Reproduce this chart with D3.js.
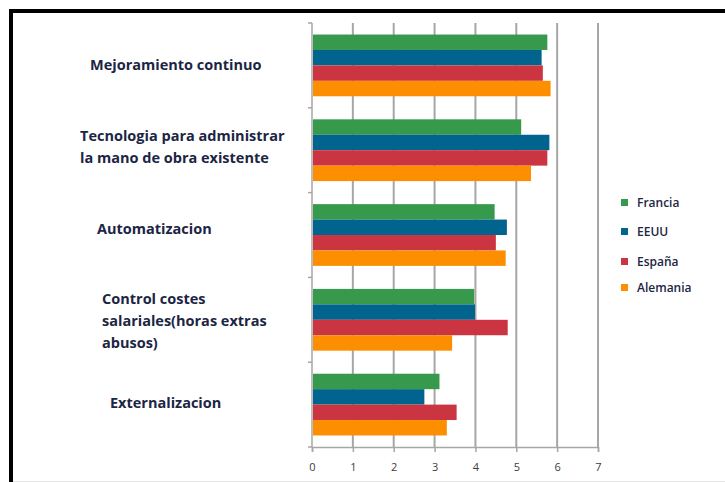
<!DOCTYPE html>
<html>
<head>
<meta charset="utf-8">
<script src="https://cdnjs.cloudflare.com/ajax/libs/d3/7.8.5/d3.min.js"></script>
<style>
body { margin: 0; background: #fff; }
.text_category { font-family: "Open Sans", sans-serif; font-weight: 700; font-size: 14.5px; }
.text_legend { font-family: "Open Sans", sans-serif; font-weight: 600; font-size: 12px; }
.text_tick { font-family: "Open Sans", sans-serif; font-size: 11px; }
</style>
</head>
<body>
<div id="canvas"></div>
<script>
// ----------------------------------------------------------
// DATA -----------------------------------------------------
// ----------------------------------------------------------
var categories = [
  "Mejoramiento continuo",
  "Tecnologia para administrar la mano de obra existente",
  "Automatizacion",
  "Control costes salariales(horas extras abusos)",
  "Externalizacion"
];
// label lines as they wrap in the picture
var category_lines = [
  ["Mejoramiento continuo"],
  ["Tecnologia para administrar", "la mano de obra existente"],
  ["Automatizacion"],
  ["Control costes", "salariales(horas extras", "abusos)"],
  ["Externalizacion"]
];
var series = ["Francia", "EEUU", "España", "Alemania"];
var values_francia  = [5.76, 5.12, 4.47, 3.97, 3.12];
var values_eeuu     = [5.62, 5.81, 4.77, 3.99, 2.75];
var values_espana   = [5.65, 5.76, 4.50, 4.79, 3.54];
var values_alemania = [5.84, 5.36, 4.74, 3.43, 3.30];
var tick_values = [0, 1, 2, 3, 4, 5, 6, 7];

// ----------------------------------------------------------
// LAYOUT ---------------------------------------------------
// ----------------------------------------------------------
var layout = {
  width: 725,
  height: 482,
  plot_left: 312,
  plot_right: 598,
  plot_top: 23,
  plot_bottom: 447,
  color_border: "#000000",
  color_grid: "#a6a6a6",
  color_text: "#1c2544",
  color_tick: "#3c3c3c",
  colors: ["#37994b", "#00648f", "#cb3542", "#fd8e00"],
  // label x and small vertical nudge per category
  label_x: [90, 80, 97, 102, 110],
  label_dy: [0, -3, -6, 1, -2],
  line_height: 22,
  legend_x: 621,
  legend_y: [203, 232, 262, 288]
};

var table = categories.map(function(c, i) {
  return {
    category: c,
    lines: category_lines[i],
    values: [values_francia[i], values_eeuu[i], values_espana[i], values_alemania[i]]
  };
});

// ----------------------------------------------------------
// STRUCTURE ------------------------------------------------
// ----------------------------------------------------------
var svg = d3.select("#canvas").append("svg")
.attr("width", layout.width)
.attr("height", layout.height)
.style("display", "block")
.style("background-color", "#ffffff");

// frame (top and left edges only, as in the picture)
svg.append("rect")
.attr("x", 9).attr("y", 9)
.attr("width", layout.width).attr("height", 4)
.style("fill", layout.color_border);
svg.append("rect")
.attr("x", 9).attr("y", 9)
.attr("width", 4).attr("height", layout.height)
.style("fill", layout.color_border);
svg.append("rect")
.attr("x", 13).attr("y", 481)
.attr("width", layout.width).attr("height", 1)
.style("fill", "#e6e6e6");

// ----------------------------------------------------------
// SCALES ---------------------------------------------------
// ----------------------------------------------------------
var x = d3.scaleLinear()
.domain([0, 7])
.range([layout.plot_left, layout.plot_right]);

var y = d3.scaleBand()
.domain(categories)
.range([layout.plot_top, layout.plot_bottom])
.paddingInner(0.272)
.paddingOuter(0.136);

var y_outer = d3.scaleBand()
.domain(categories)
.range([layout.plot_top, layout.plot_bottom]);

var y_inner = d3.scaleBand()
.domain(series)
.range([0, y.bandwidth()]);

var color = d3.scaleOrdinal().domain(series).range(layout.colors);

// ----------------------------------------------------------
// GRID & AXES ----------------------------------------------
// ----------------------------------------------------------
var x_axis = svg.append("g")
.attr("transform", "translate(0," + layout.plot_bottom + ")")
.call(d3.axisBottom(x).tickValues(tick_values).tickFormat(d3.format("d")).tickSize(5).tickPadding(11));
x_axis.select(".domain").attr("stroke", layout.color_grid).attr("stroke-width", 1.5);
x_axis.selectAll(".tick line").attr("stroke", layout.color_grid).attr("stroke-width", 1.5);
x_axis.selectAll(".tick text")
.attr("class", "text_tick")
.style("fill", layout.color_tick);

// vertical grid lines
svg.append("g").selectAll("line")
.data(tick_values)
.enter()
.append("line")
.attr("x1", function(d) { return x(d); })
.attr("x2", function(d) { return x(d); })
.attr("y1", layout.plot_top)
.attr("y2", layout.plot_bottom)
.attr("stroke", layout.color_grid)
.attr("stroke-width", function(d) { return d === 0 ? 1.5 : 2; });

// left axis ticks at category boundaries
var boundaries = categories.map(function(c) { return y_outer(c); }).concat([layout.plot_bottom]);
svg.append("g").selectAll("line")
.data(boundaries)
.enter()
.append("line")
.attr("x1", x(0) - 4)
.attr("x2", x(0))
.attr("y1", function(d) { return d; })
.attr("y2", function(d) { return d; })
.attr("stroke", layout.color_grid)
.attr("stroke-width", 1.5);

// ----------------------------------------------------------
// BARS -----------------------------------------------------
// ----------------------------------------------------------
var groups = svg.append("g").selectAll(".group")
.data(table)
.enter()
.append("g")
.attr("class", "group")
.attr("transform", function(d) { return "translate(0," + y(d.category) + ")"; });

groups.selectAll("rect")
.data(function(d) {
  return series.map(function(s, j) { return { key: s, value: d.values[j] }; });
})
.enter()
.append("rect")
.attr("x", x(0) + 1)
.attr("y", function(d) { return y_inner(d.key); })
.attr("width", function(d) { return x(d.value) - x(0) - 1; })
.attr("height", y_inner.bandwidth())
.style("fill", function(d) { return color(d.key); });

// ----------------------------------------------------------
// CATEGORY LABELS ------------------------------------------
// ----------------------------------------------------------
var labels = svg.append("g").selectAll(".text_category")
.data(table)
.enter()
.append("text")
.attr("class", "text_category")
.attr("x", function(d, i) { return layout.label_x[i]; })
.attr("y", function(d, i) {
  var c = y_outer(d.category) + y_outer.bandwidth() / 2 + layout.label_dy[i];
  return c - (d.lines.length - 1) * layout.line_height / 2;
})
.style("fill", layout.color_text);

labels.selectAll("tspan")
.data(function(d) { return d.lines; })
.enter()
.append("tspan")
.attr("x", function() { return d3.select(this.parentNode).attr("x"); })
.attr("dy", function(d, i) { return i === 0 ? "0.35em" : layout.line_height; })
.text(function(d) { return d; });

// ----------------------------------------------------------
// LEGEND ---------------------------------------------------
// ----------------------------------------------------------
var legend = svg.append("g").selectAll(".legend")
.data(series)
.enter()
.append("g")
.attr("class", "legend")
.attr("transform", function(d, i) { return "translate(" + layout.legend_x + "," + layout.legend_y[i] + ")"; });

legend.append("rect")
.attr("x", 0).attr("y", -4)
.attr("width", 7).attr("height", 7)
.style("fill", function(d) { return color(d); });

legend.append("text")
.attr("class", "text_legend")
.attr("x", 16)
.attr("dy", "0.35em")
.text(function(d) { return d; })
.style("fill", layout.color_text);
</script>
</body>
</html>
